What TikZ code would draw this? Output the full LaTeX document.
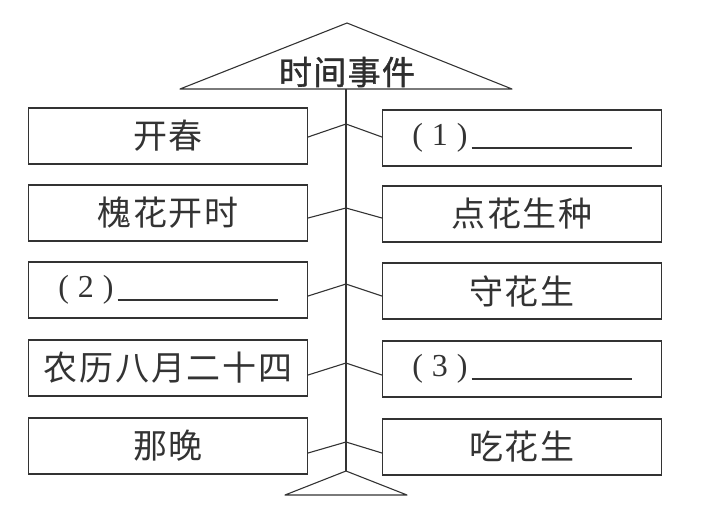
\documentclass[tikz,border=0pt]{standalone}
\usepackage{fontspec}
\newfontfamily\cjk[LetterSpace=5]{Noto Sans CJK SC}
\newfontfamily\cjktitle[LetterSpace=4, FakeBold=1.2]{Noto Sans CJK SC}
\newfontfamily\numfont{Liberation Serif}
\definecolor{ink}{HTML}{333333}
\tikzstyle{line}=[draw=ink, line width=1.1pt, line join=round]
\tikzstyle{event}=[draw=ink, line width=1.1pt, minimum width=279pt, minimum height=56pt,
  inner sep=0pt, text=ink, font=\cjk\fontsize{34}{36}\selectfont]
\tikzstyle{heading}=[inner sep=0pt, text=ink!90!black, font=\cjktitle\fontsize{33}{35}\selectfont]
\newcommand{\event}{\node[event]}
\newcommand{\fillin}[1]{{\numfont\fontsize{32}{34}\selectfont(\hspace{9pt}#1\hspace{9pt})}\hspace{4pt}\rule[-3pt]{160pt}{1.3pt}}

\begin{document}
\begin{tikzpicture}[x=1pt, y=-1pt]
\useasboundingbox (0,0) rectangle (706,515);
% title triangle
\coordinate (top) at (347,23);
\coordinate (tl) at (180,89);
\coordinate (tr) at (512,89);
\draw[line] (tl) -- (top) -- (tr) -- cycle;
\node[heading] (t) at (347,72) {时间事件};
% time column
\event (l1) at (168,136) {开春};
\event (l2) at (168,213) {槐花开时};
\event (l3) at (168,290) {\fillin{2}};
\event (l4) at (168,368) {农历八月二十四};
\event (l5) at (168,446) {那晚};
% event column
\event (r1) at (522,138) {\fillin{1}};
\event (r2) at (522,214) {点花生种};
\event (r3) at (522,291) {守花生};
\event (r4) at (522,369) {\fillin{3}};
\event (r5) at (522,447) {吃花生};
% spine
\coordinate (s0) at (346,89);
\coordinate (s1) at (346,124);
\coordinate (s2) at (346,208);
\coordinate (s3) at (346,284);
\coordinate (s4) at (346,363);
\coordinate (s5) at (346,442);
\coordinate (s6) at (346,471);
\coordinate (bl) at (285,495);
\coordinate (br) at (407,495);
\draw[line] (s0) -- (s6);
\draw[line] (bl) -- (s6) -- (br) -- cycle;
\draw[line] ([yshift=-1pt]l1.east) -- (s1) -- ([yshift=1pt]r1.west);
\draw[line] ([yshift=-5pt]l2.east) -- (s2) -- ([yshift=-4pt]r2.west);
\draw[line] ([yshift=-6pt]l3.east) -- (s3) -- ([yshift=-5pt]r3.west);
\draw[line] ([yshift=-7pt]l4.east) -- (s4) -- ([yshift=-6pt]r4.west);
\draw[line] ([yshift=-7pt]l5.east) -- (s5) -- ([yshift=-6pt]r5.west);
\end{tikzpicture}
\end{document}
